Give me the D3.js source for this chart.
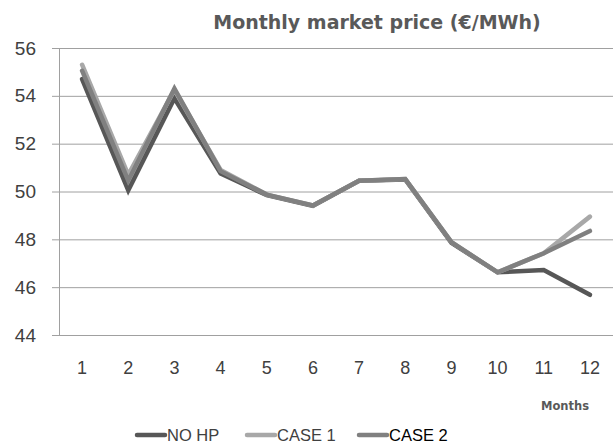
<!DOCTYPE html>
<html><head><meta charset="utf-8">
<script src="https://cdn.jsdelivr.net/npm/d3@7"></script>
<style>body{margin:0;background:#fff;}svg{display:block;}</style>
</head><body>
<script>
const months = [1,2,3,4,5,6,7,8,9,10,11,12];
const noHP  = [54.7, 50.05, 53.9, 50.75, 49.85, 49.4, 50.45, 50.5, 47.85, 46.62, 46.72, 45.68];
const case1 = [55.3, 50.7, 54.25, 50.9, 49.87, 49.42, 50.45, 50.52, 47.88, 46.62, 47.42, 48.95];
const case2 = [55.05, 50.45, 54.3, 50.85, 49.87, 49.42, 50.45, 50.52, 47.88, 46.62, 47.42, 48.35];
const yTicks = [44,46,48,50,52,54,56];
const seriesNames = ["NO HP","CASE 1","CASE 2"];
const colors = ["#575757","#a8a8a8","#808080"];

const W=614,H=444;
const svg=d3.select("body").append("svg").attr("width",W).attr("height",H);
const pL=59,pR=613,pT=48,pB=335;
const x=d3.scaleBand().domain(months).range([pL,pR]);
const y=d3.scaleLinear().domain([44,56]).range([pB,pT]);

// gridlines
svg.append("g").selectAll("line").data(yTicks).join("line")
  .attr("x1",52).attr("x2",pR).attr("y1",d=>y(d)+0.5).attr("y2",d=>y(d)+0.5)
  .attr("stroke","#a0a0a0").attr("stroke-width",1);
// y axis line
svg.append("line").attr("x1",pL+0.5).attr("x2",pL+0.5).attr("y1",pT).attr("y2",pB)
  .attr("stroke","#a0a0a0");
// y labels
svg.append("g").selectAll("text").data(yTicks).join("text")
  .attr("x",36).attr("y",d=>y(d)).attr("dy","0.35em").attr("text-anchor","end")
  .attr("font-family","Liberation Sans, Arial, sans-serif").attr("font-size",19).attr("fill","#404040")
  .text(d=>d);
// x labels
svg.append("g").selectAll("text").data(months).join("text")
  .attr("x",d=>x(d)+x.bandwidth()/2).attr("y",368).attr("dy","0.35em").attr("text-anchor","middle")
  .attr("font-family","Liberation Sans, Arial, sans-serif").attr("font-size",18).attr("fill","#404040")
  .text(d=>d);

const data=[noHP,case1,case2];
const line=d3.line().x((d,i)=>x(months[i])+x.bandwidth()/2).y(d=>y(d));
svg.append("g").selectAll("path").data(data).join("path")
  .attr("d",line).attr("fill","none")
  .attr("stroke",(d,i)=>colors[i]).attr("stroke-width",4.5)
  .attr("stroke-linejoin","miter").attr("stroke-linecap","round");

// title
svg.append("text").attr("x",377).attr("y",22).attr("dy","0.35em").attr("text-anchor","middle")
  .attr("font-family","DejaVu Sans, Verdana, sans-serif").attr("font-weight","bold").attr("font-size",19)
  .attr("fill","#595959").text("Monthly market price (€/MWh)");
// Months
svg.append("text").attr("x",565).attr("y",406).attr("dy","0.35em").attr("text-anchor","middle")
  .attr("font-family","DejaVu Sans, Verdana, sans-serif").attr("font-weight","bold").attr("font-size",11.5)
  .attr("fill","#595959").text("Months");
// legend
const legX=[137,247,359];
const lg=svg.append("g").selectAll("g").data(seriesNames).join("g")
  .attr("transform",(d,i)=>`translate(${legX[i]},435)`);
lg.append("line").attr("x1",0).attr("x2",28).attr("y1",0).attr("y2",0)
  .attr("stroke",(d,i)=>colors[i]).attr("stroke-width",4.5).attr("stroke-linecap","round");
lg.append("text").attr("x",30).attr("y",0).attr("dy","0.35em")
  .attr("font-family","Liberation Sans, Arial, sans-serif").attr("font-size",16.5)
  .attr("fill",(d,i)=>i==2?"#000":"#404040").text(d=>d);
</script>
</body></html>
